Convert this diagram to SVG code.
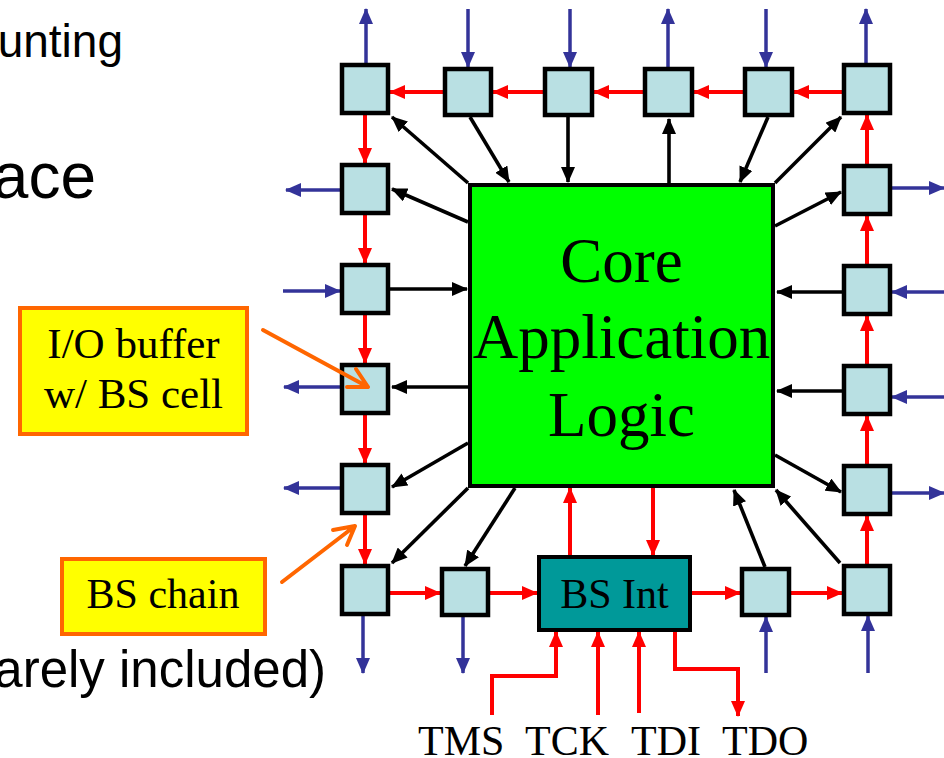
<svg xmlns="http://www.w3.org/2000/svg" width="944" height="758" viewBox="0 0 944 758">
<style>
.cell{fill:#B9E0E3;stroke:#000;stroke-width:4.5}
.bk{stroke:#000;stroke-width:3.6;fill:none;marker-end:url(#ak)}
.rd{stroke:#FF0000;stroke-width:4;fill:none;marker-end:url(#ar)}
.bl{stroke:#333399;stroke-width:3.5;fill:none;marker-end:url(#ab)}
.or{stroke:#FF6600;stroke-width:4;fill:none;stroke-linecap:round}
.serif{font-family:"Liberation Serif","Times New Roman",serif;fill:#000}
.sans{font-family:"Liberation Sans",Arial,sans-serif;fill:#000}
.lbl{fill:#FFFF00;stroke:#FF6600;stroke-width:4}
</style>
<defs>
<marker id="ak" viewBox="0 0 16 14" refX="15" refY="7" markerWidth="16" markerHeight="14" markerUnits="userSpaceOnUse" orient="auto"><path d="M0,0 L16,7 L0,14 z" fill="#000"/></marker>
<marker id="ar" viewBox="0 0 16 14" refX="15" refY="7" markerWidth="16" markerHeight="14" markerUnits="userSpaceOnUse" orient="auto"><path d="M0,0 L16,7 L0,14 z" fill="#FF0000"/></marker>
<marker id="ab" viewBox="0 0 16 14" refX="15" refY="7" markerWidth="16" markerHeight="14" markerUnits="userSpaceOnUse" orient="auto"><path d="M0,0 L16,7 L0,14 z" fill="#333399"/></marker>
</defs>
<rect width="944" height="758" fill="#fff"/>

<g id="bg-text">
<text class="sans" x="123" y="57" font-size="46" text-anchor="end">unting</text>
<text class="sans" x="96" y="198" font-size="64" text-anchor="end">ace</text>
<text class="sans" x="326" y="687" font-size="51" text-anchor="end">arely included)</text>
</g>

<g id="connectors">
<!-- black -->
<path class="bk" d="M468,183 L392,117"/>
<path class="bk" d="M470,117 L509,182"/>
<path class="bk" d="M568,117 L568,182"/>
<path class="bk" d="M669,183 L669,119"/>
<path class="bk" d="M768,117 L740,182"/>
<path class="bk" d="M775,183 L841,117"/>
<path class="bk" d="M468,222 L392,189"/>
<path class="bk" d="M390,289 L467,289"/>
<path class="bk" d="M468,387 L392,387"/>
<path class="bk" d="M468,443 L392,487"/>
<path class="bk" d="M468,488 L392,563"/>
<path class="bk" d="M515,488 L465,566"/>
<path class="bk" d="M765,567 L734,490"/>
<path class="bk" d="M840,563 L776,490"/>
<path class="bk" d="M775,226 L841,192"/>
<path class="bk" d="M842,292 L777,292"/>
<path class="bk" d="M842,391 L777,391"/>
<path class="bk" d="M775,455 L841,492"/>
<!-- red chain -->
<path class="rd" d="M842,92 L794,92"/>
<path class="rd" d="M743,92 L694,92"/>
<path class="rd" d="M643,92 L594,92"/>
<path class="rd" d="M543,92 L493,92"/>
<path class="rd" d="M443,92 L390,92"/>
<path class="rd" d="M365,115 L365,163"/>
<path class="rd" d="M365,215 L365,263"/>
<path class="rd" d="M365,315 L365,363"/>
<path class="rd" d="M365,415 L365,463"/>
<path class="rd" d="M365,515 L365,564"/>
<path class="rd" d="M390,593 L440,593"/>
<path class="rd" d="M490,593 L537,593"/>
<path class="rd" d="M692,593 L740,593"/>
<path class="rd" d="M791,593 L842,593"/>
<path class="rd" d="M867,564 L867,516"/>
<path class="rd" d="M867,464 L867,416"/>
<path class="rd" d="M867,364 L867,316"/>
<path class="rd" d="M867,264 L867,216"/>
<path class="rd" d="M867,164 L867,115"/>
<path class="rd" d="M570,555 L570,488"/>
<path class="rd" d="M653,488 L653,555"/>
<path class="rd" d="M492,715 V676 H556 V632"/>
<path class="rd" d="M598,715 V632"/>
<path class="rd" d="M639,713 V632"/>
<path class="rd" d="M675,632 V669 H738 V716"/>
<!-- blue pins -->
<path class="bl" d="M366,63 L366,9"/>
<path class="bl" d="M468,9 L468,67"/>
<path class="bl" d="M570,9 L570,67"/>
<path class="bl" d="M668,67 L668,9"/>
<path class="bl" d="M766,9 L766,67"/>
<path class="bl" d="M866,63 L866,9"/>
<path class="bl" d="M340,190 L286,190"/>
<path class="bl" d="M283,291 L340,291"/>
<path class="bl" d="M340,387 L284,387"/>
<path class="bl" d="M340,488 L284,488"/>
<path class="bl" d="M892,188 L944,188"/>
<path class="bl" d="M944,292 L892,292"/>
<path class="bl" d="M944,397 L892,397"/>
<path class="bl" d="M892,493 L944,493"/>
<path class="bl" d="M363,616 L363,673"/>
<path class="bl" d="M463,617 L463,673"/>
<path class="bl" d="M766,673 L766,617"/>
<path class="bl" d="M868,673 L868,616"/>
</g>

<g id="core">
<rect x="470" y="185" width="303" height="301" fill="#00FF00" stroke="#000" stroke-width="4"/>
<text class="serif" x="621.5" y="282" font-size="63" text-anchor="middle">Core</text>
<text class="serif" x="621.5" y="358" font-size="63" text-anchor="middle">Application</text>
<text class="serif" x="621.5" y="436" font-size="63" text-anchor="middle">Logic</text>
</g>

<g id="bsint">
<rect x="539" y="557" width="151" height="73" fill="#009999" stroke="#000" stroke-width="4"/>
<text class="serif" x="614.5" y="608" font-size="42" text-anchor="middle">BS Int</text>
</g>

<g id="cell-tl"><rect class="cell" x="342" y="65" width="46" height="48"/></g>
<g id="cell-t2"><rect class="cell" x="445" y="69" width="46" height="46"/></g>
<g id="cell-t3"><rect class="cell" x="545" y="69" width="47" height="46"/></g>
<g id="cell-t4"><rect class="cell" x="645" y="69" width="47" height="46"/></g>
<g id="cell-t5"><rect class="cell" x="745" y="69" width="47" height="46"/></g>
<g id="cell-tr"><rect class="cell" x="844" y="65" width="46" height="48"/></g>
<g id="cell-l2"><rect class="cell" x="342" y="165" width="46" height="48"/></g>
<g id="cell-l3"><rect class="cell" x="342" y="265" width="46" height="48"/></g>
<g id="cell-l4"><rect class="cell" x="342" y="365" width="46" height="48"/></g>
<g id="cell-l5"><rect class="cell" x="342" y="465" width="46" height="48"/></g>
<g id="cell-bl"><rect class="cell" x="342" y="566" width="46" height="48"/></g>
<g id="cell-b2"><rect class="cell" x="442" y="569" width="46" height="46"/></g>
<g id="cell-b4"><rect class="cell" x="742" y="569" width="47" height="46"/></g>
<g id="cell-br"><rect class="cell" x="844" y="566" width="46" height="48"/></g>
<g id="cell-r2"><rect class="cell" x="844" y="166" width="46" height="48"/></g>
<g id="cell-r3"><rect class="cell" x="844" y="266" width="46" height="48"/></g>
<g id="cell-r4"><rect class="cell" x="844" y="366" width="46" height="48"/></g>
<g id="cell-r5"><rect class="cell" x="844" y="466" width="46" height="48"/></g>

<g id="label-io">
<rect class="lbl" x="20" y="308" width="227" height="126"/>
<text class="serif" x="133.5" y="358" font-size="43" text-anchor="middle">I/O buffer</text>
<text class="serif" x="133.5" y="408" font-size="43" text-anchor="middle">w/ BS cell</text>
</g>

<g id="label-chain">
<rect class="lbl" x="62" y="559" width="203" height="75"/>
<text class="serif" x="163" y="608" font-size="42" text-anchor="middle">BS chain</text>
</g>

<g id="pointers">
<path class="or" d="M263,330 L368,387 M347,387 L368,387 M356,369 L368,387"/>
<path class="or" d="M282,582 L355,526 M333,530 L355,526 M347,545 L355,526"/>
</g>

<g id="pins">
<text class="serif" x="418" y="755" font-size="42">TMS</text>
<text class="serif" x="525" y="755" font-size="42">TCK</text>
<text class="serif" x="631" y="755" font-size="42">TDI</text>
<text class="serif" x="722" y="755" font-size="42">TDO</text>
</g>
</svg>
